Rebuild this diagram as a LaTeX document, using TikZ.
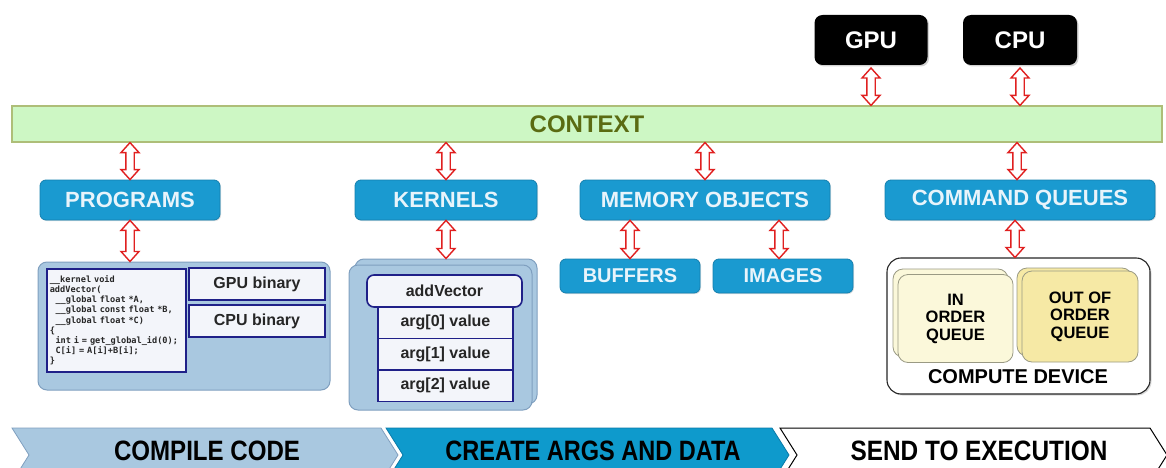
\documentclass[tikz,border=0pt]{standalone}
\usepackage{fontspec}
\setmainfont{Liberation Sans}
\newfontfamily\codefont{DejaVu Sans Mono}
\usetikzlibrary{calc,shadows}
\definecolor{oblue}{HTML}{1A9AD0}
\definecolor{obluedark}{HTML}{147FAE}
\definecolor{otext}{HTML}{E8F4FB}
\definecolor{panel}{HTML}{A9C8E0}
\definecolor{panelb}{HTML}{7F9FBF}
\definecolor{navy}{HTML}{1F2088}
\definecolor{boxfill}{HTML}{F3F5FA}
\definecolor{ctxfill}{HTML}{CDF7C4}
\definecolor{ctxborder}{HTML}{AEBE78}
\definecolor{ctxtext}{HTML}{5A6B12}
\definecolor{arrred}{HTML}{E02020}
\definecolor{inq}{HTML}{FBF8DA}
\definecolor{outq}{HTML}{F6E9A5}
\definecolor{qborder}{HTML}{9A9A84}
\definecolor{chev2}{HTML}{0E9ACC}
\definecolor{chev2b}{HTML}{0A7AA8}
\begin{document}
\begin{tikzpicture}[x=1pt,y=-1pt,
  lbl/.style={font=\bfseries\fontsize{#1}{#1}\selectfont},
  hw/.style={fill=black, rounded corners=8pt, text=white, minimum height=50pt,
    lbl=24, inner sep=0pt, drop shadow={opacity=0.35, shadow xshift=1.5pt, shadow yshift=-1.5pt}},
  bluebox/.style={fill=oblue, draw=obluedark, line width=0.8pt, rounded corners=6pt, text=otext,
    inner sep=0pt, drop shadow={opacity=0.25, shadow xshift=1pt, shadow yshift=-1pt}},
  panelbox/.style={fill=panel, draw=panelb, line width=1pt, rounded corners=9pt, inner sep=0pt},
  navybox/.style={fill=boxfill, draw=navy, line width=1.6pt, inner sep=0pt, lbl=16, text=black!85},
  qbox/.style={draw=qborder, line width=0.8pt, rounded corners=10pt, inner sep=0pt,
    minimum width=115pt, minimum height=88pt},
  chevtext/.style={lbl=28, text=black},
  dblarrow/.style={draw=arrred, fill=white, line width=1.4pt, line join=miter,
    to path={let \p1=(\tikztostart), \p2=(\tikztotarget) in
      (\x1,\y1) -- (\x1+9pt,\y1-10pt) -- (\x1+4.2pt,\y1-10pt) -- (\x1+4.2pt,\y2+10pt)
      -- (\x1+9pt,\y2+10pt) -- (\x1,\y2) -- (\x1-9pt,\y2+10pt) -- (\x1-4.2pt,\y2+10pt)
      -- (\x1-4.2pt,\y1-10pt) -- (\x1-9pt,\y1-10pt) -- cycle}}
]
\useasboundingbox (0,0) rectangle (1166,468);
\clip (0,0) rectangle (1166,468);

% hardware
\node[hw, minimum width=113pt] (gpu) at (871,40) {GPU};
\node[hw, minimum width=114pt] (cpu) at (1020,40) {CPU};

% context
\node[fill=ctxfill, draw=ctxborder, line width=1.2pt, minimum width=1150pt, minimum height=36pt,
  inner sep=0pt, lbl=24, text=ctxtext] (ctx) at (587,124) {CONTEXT};

% main boxes
\node[bluebox, minimum width=180pt, minimum height=40pt, lbl=22] (prog) at (130,200) {PROGRAMS};
\node[bluebox, minimum width=182pt, minimum height=40pt, lbl=22] (kern) at (446,200) {KERNELS};
\node[bluebox, minimum width=250pt, minimum height=40pt, lbl=22] (mem) at (705,200) {MEMORY OBJECTS};
\node[bluebox, minimum width=270pt, minimum height=40pt, lbl=22] (cq) at (1020,200) {COMMAND QUEUES};

\node[bluebox, minimum width=140pt, minimum height=34pt, lbl=20] (buf) at (630,276) {BUFFERS};
\node[bluebox, minimum width=140pt, minimum height=34pt, lbl=20] (img) at (783,276) {IMAGES};

% programs panel
\node[panelbox, minimum width=292pt, minimum height=128pt] (ppanel) at (184,326) {};
\node[navybox, minimum width=139pt, minimum height=103pt, anchor=north west, text width=133pt,
  align=left, font=\codefont\bfseries\fontsize{8.6}{10.2}\selectfont] (code) at (46,268)
  {\_\_kernel void\\addVector(\\\ \ \_\_global float *A,\\\ \ \_\_global const float *B,\\\ \ \_\_global float *C)\\\{\\\ \ int i = get\_global\_id(0);\\\ \ C[i] = A[i]+B[i];\\\}};
\node[navybox, minimum width=136pt, minimum height=32pt] (gpub) at (257,284) {GPU binary};
\node[navybox, minimum width=136pt, minimum height=32pt] (cpub) at (257,321) {CPU binary};

% kernels panel
\node[panelbox, minimum width=182pt, minimum height=145pt] (kback) at (446,331.5) {};
\node[panelbox, minimum width=183pt, minimum height=145pt] (kpanel) at (440.5,337.5) {};
\node[navybox, minimum width=135pt, minimum height=31.5pt] (arg0) at (445.5,322.75) {arg[0] value};
\node[navybox, minimum width=135pt, minimum height=31.5pt] (arg1) at (445.5,354.25) {arg[1] value};
\node[navybox, minimum width=135pt, minimum height=31.5pt] (arg2) at (445.5,385.75) {arg[2] value};
\node[navybox, rounded corners=7pt, minimum width=155pt, minimum height=32pt] (addv) at (444.5,291) {addVector};

% compute device
\node[fill=white, draw=black!85, line width=1.1pt, rounded corners=14pt, minimum width=263pt,
  minimum height=136pt, inner sep=0pt, drop shadow={opacity=0.3, shadow xshift=1.5pt, shadow yshift=-1.5pt}]
  (cd) at (1018.5,326) {};
\node[qbox, fill=inq] (inqb) at (950.5,313) {};
\node[qbox, fill=inq, align=center, lbl=16.5, text=black] (inqf) at (955.5,318.5)
  {IN\\[1pt]ORDER\\[1pt]QUEUE};
\node[qbox, fill=outq] (outqb) at (1074.5,312) {};
\node[qbox, fill=outq, minimum width=116pt, minimum height=91pt, align=center, lbl=16.5, text=black]
  (outqf) at (1080,316.5) {OUT OF\\[1pt]ORDER\\[1pt]QUEUE};
\node[lbl=20, text=black] (cdl) at (1018,377) {COMPUTE DEVICE};

% arrows
\draw[dblarrow] (gpu.south |- 0,68) to (ctx.north -| gpu.south);
\draw[dblarrow] (cpu.south |- 0,68) to (ctx.north -| cpu.south);
\draw[dblarrow] (ctx.south -| prog.north) to (prog.north);
\draw[dblarrow] (ctx.south -| kern.north) to (kern.north);
\draw[dblarrow] (ctx.south -| mem.north) to (mem.north);
\draw[dblarrow] (ctx.south -| 1017,0) to (cq.north -| 1017,0);
\draw[dblarrow] (prog.south) to (prog.south |- ppanel.north);
\draw[dblarrow] (kern.south) to (kern.south |- kback.north);
\draw[dblarrow] (mem.south -| buf.north) to (buf.north);
\draw[dblarrow] (mem.south -| 779,0) to (img.north -| 779,0);
\draw[dblarrow] (cq.south -| 1015,0) to (cd.north -| 1015,0);

% bottom chevrons
\draw[fill=panel, draw=panelb, line width=0.8pt]
  (12,428) -- (381,428) -- (398,455) -- (381,482) -- (12,482) -- (29,455) -- cycle;
\draw[fill=chev2, draw=chev2b, line width=0.8pt]
  (386,428) -- (772,428) -- (789,455) -- (772,482) -- (386,482) -- (403,455) -- cycle;
\draw[fill=white, draw=black, line width=1pt]
  (780,428) -- (1150,428) -- (1167,455) -- (1150,482) -- (780,482) -- (797,455) -- cycle;
\node[chevtext] (s1) at (207,451) {\scalebox{0.86}[1]{COMPILE CODE}};
\node[chevtext] (s2) at (593,451) {\scalebox{0.84}[1]{CREATE ARGS AND DATA}};
\node[chevtext] (s3) at (979,451) {\scalebox{0.87}[1]{SEND TO EXECUTION}};
\end{tikzpicture}
\end{document}
